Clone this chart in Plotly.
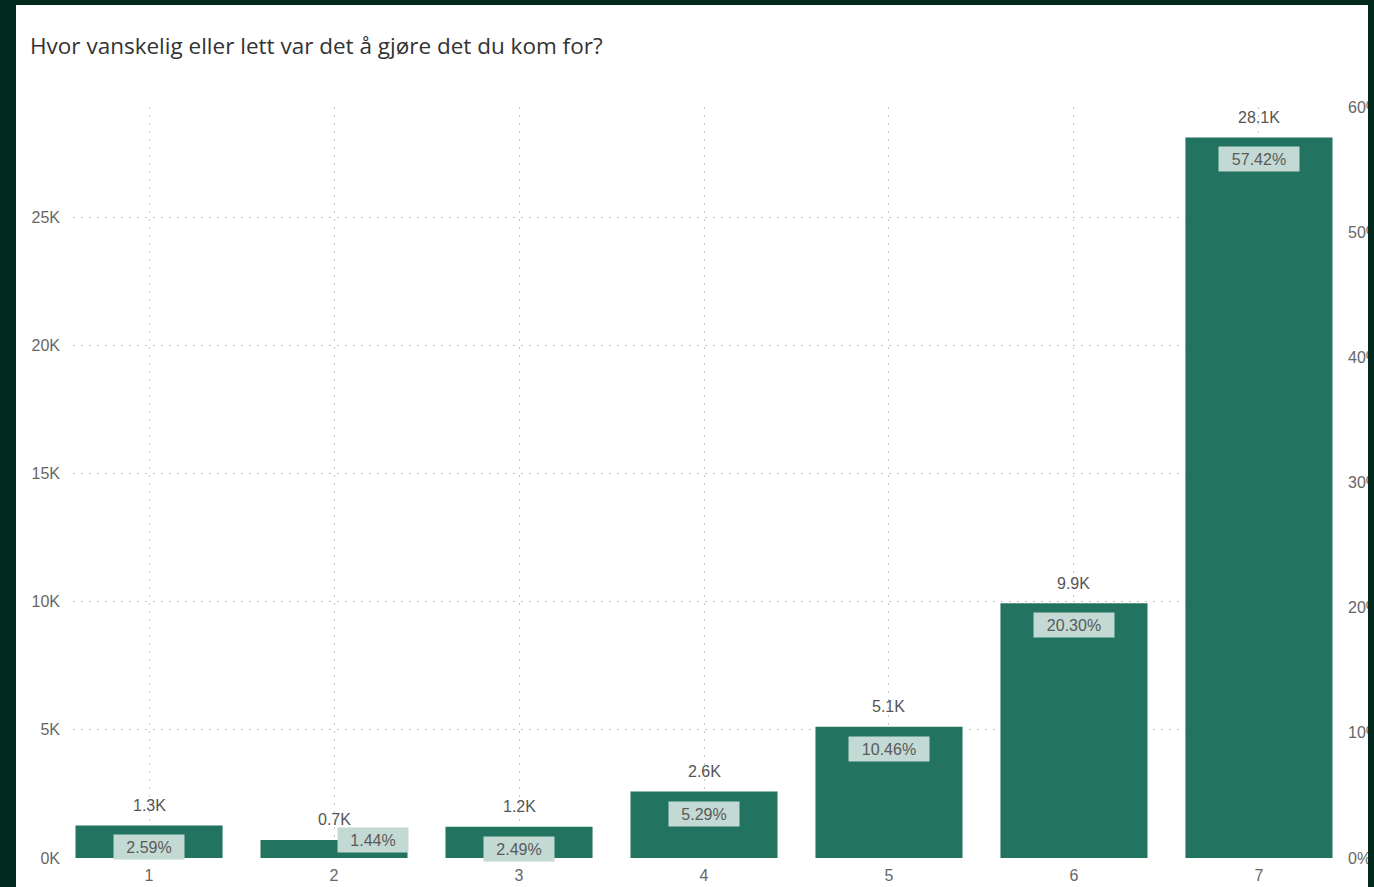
import plotly.graph_objects as go

# Survey answers on a 1-7 scale (1 = very difficult, 7 = very easy)
categories = ["1", "2", "3", "4", "5", "6", "7"]
counts = [1268, 705, 1219, 2589, 5119, 9935, 28101]
shares = [2.59, 1.44, 2.49, 5.29, 10.46, 20.30, 57.42]

left_tickvals = [0, 5000, 10000, 15000, 20000, 25000]
left_ticktext = ["0K", "5K", "10K", "15K", "20K", "25K"]
right_tickvals = [0, 10, 20, 30, 40, 50, 60]
right_ticktext = ["0%", "10%", "20%", "30%", "40%", "50%", "60%"]

title_text = "Hvor vanskelig eller lett var det å gjøre det du kom for?"

BAR = "#227360"
FRAME = "#03291f"
GRID = "#c9c9c9"
TICK = "#666666"
FONT = "Liberation Sans"

W, H = 1374, 887
ML, MR, MT, MB = 73, 39, 107, 29
pw, ph = W - ML - MR, H - MT - MB


def px_x(x):
    """Pixel column -> paper x."""
    return (x - ML) / pw


def px_y(y):
    """Pixel row (from top) -> paper y."""
    return (H - MB - y) / ph


fig = go.Figure()
fig.add_trace(go.Bar(
    x=categories, y=counts, marker_color=BAR, marker_line_width=0,
    width=0.795, hoverinfo="skip", showlegend=False,
))
# invisible trace that carries the share axis
fig.add_trace(go.Scatter(
    x=categories, y=shares, yaxis="y2", mode="markers",
    marker=dict(opacity=0), hoverinfo="skip", showlegend=False,
))

annotations = []
for i, (v, p) in enumerate(zip(counts, shares)):
    annotations.append(dict(
        x=i, y=v, xref="x", yref="y", text=f"{v/1000:.1f}K",
        showarrow=False, yanchor="middle", yshift=20,
        font=dict(family=FONT, size=16, color="#555555"),
    ))
    label = f"{p:.2f}%"
    narrow = v < 1000
    annotations.append(dict(
        x=i, y=v, xref="x", yref="y", text=label,
        showarrow=False, yanchor="middle",
        yshift=0 if narrow else -22, xshift=39 if narrow else 0,
        font=dict(family=FONT, size=16, color="#5a5a5a"),
        bgcolor="#c3d9d3", borderpad=3,
        width=64 if len(label) <= 5 else 74, height=18,
    ))
annotations.append(dict(
    x=px_x(28), y=px_y(45), xref="paper", yref="paper", text=title_text,
    showarrow=False, xanchor="left", yanchor="middle",
    font=dict(family="Open Sans", size=22.5, color="#333333"),
))

shapes = [
    # dark frame around the white panel
    dict(type="rect", xref="paper", yref="paper", x0=px_x(0), x1=px_x(16),
         y0=px_y(H), y1=px_y(0), fillcolor=FRAME, line_width=0, layer="above"),
    dict(type="rect", xref="paper", yref="paper", x0=px_x(0), x1=px_x(W),
         y0=px_y(5), y1=px_y(0), fillcolor=FRAME, line_width=0, layer="above"),
    dict(type="rect", xref="paper", yref="paper", x0=px_x(1368), x1=px_x(W),
         y0=px_y(H), y1=px_y(0), fillcolor=FRAME, line_width=0, layer="above"),
]

fig.update_layout(
    width=W, height=H, autosize=False,
    margin=dict(l=ML, r=MR, t=MT, b=MB, pad=0),
    paper_bgcolor="white", plot_bgcolor="white",
    xaxis=dict(
        type="category", range=[-0.411, 6.411], automargin=False,
        showgrid=True, gridcolor=GRID, griddash="2px,6px", gridwidth=1,
        showline=False, zeroline=False, ticks="",
        tickfont=dict(family=FONT, size=16, color=TICK), ticklabelstandoff=6,
    ),
    yaxis=dict(
        range=[0, 29290], tickvals=left_tickvals, ticktext=left_ticktext,
        automargin=False,
        showgrid=True, gridcolor=GRID, griddash="2px,6px", gridwidth=1,
        zeroline=False, showline=False, ticks="",
        tickfont=dict(family=FONT, size=16, color=TICK), ticklabelstandoff=12,
    ),
    yaxis2=dict(
        overlaying="y", side="right", range=[0, 60], automargin=False,
        tickvals=right_tickvals, ticktext=right_ticktext,
        showgrid=False, zeroline=False, showline=False, ticks="",
        tickfont=dict(family=FONT, size=16, color=TICK), ticklabelstandoff=12,
    ),
    annotations=annotations,
    shapes=shapes,
)

fig.write_html("out.html")
